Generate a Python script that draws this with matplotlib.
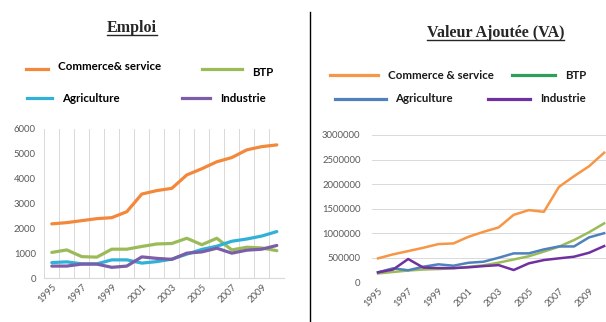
import matplotlib
matplotlib.use("Agg")
import matplotlib.pyplot as plt
from matplotlib.lines import Line2D
import numpy as np

years = list(range(1995, 2011))
tick_years = [str(y) for y in range(1995, 2010, 2)]

# Emploi
emp_commerce = [2180, 2230, 2310, 2390, 2430, 2670, 3380, 3520, 3610, 4150, 4400, 4680, 4850, 5160, 5290, 5360]
emp_btp = [1030, 1130, 860, 840, 1160, 1160, 1270, 1370, 1390, 1600, 1340, 1600, 1130, 1240, 1210, 1100]
emp_agri = [620, 650, 570, 570, 730, 730, 600, 660, 760, 960, 1150, 1280, 1480, 1570, 1690, 1870]
emp_indus = [480, 480, 560, 560, 430, 480, 850, 790, 750, 1000, 1050, 1200, 1000, 1120, 1160, 1310]

# Valeur ajoutee
va_commerce = [488000, 569000, 636000, 703000, 778000, 792000, 927000, 1028000, 1118000, 1374000, 1470000, 1435000, 1943000, 2161000, 2364000, 2640000]
va_btp = [180000, 210000, 240000, 260000, 270000, 285000, 315000, 345000, 400000, 465000, 530000, 625000, 725000, 860000, 1020000, 1200000]
va_agri = [203000, 285000, 245000, 317000, 366000, 338000, 398000, 419000, 500000, 589000, 589000, 670000, 730000, 730000, 915000, 1000000]
va_indus = [203000, 260000, 474000, 300000, 290000, 290000, 305000, 330000, 350000, 250000, 386000, 453000, 488000, 521000, 602000, 738000]

emp_names = ["Commerce& service", "BTP", "Agriculture", "Industrie"]
va_names = ["Commerce & service", "BTP", "Agriculture", "Industrie"]

W, H = 606, 322
fig = plt.figure(figsize=(W / 100, H / 100), dpi=100)
fig.patch.set_facecolor("white")

def fx(x):
    return x / W

def fy(y):
    return 1 - y / H

tick_color = "#595959"
tick_font = "Lato"

# ---------- Left chart ----------
axL = fig.add_axes([fx(44.3), fy(278), fx(240), 149 / H])
cL = ["#F4883A", "#9BBB59", "#31B0D8", "#7B5EA7"]
xs = np.arange(len(years))
for vals, col in [(emp_commerce, cL[0]), (emp_btp, cL[1]), (emp_agri, cL[2]), (emp_indus, cL[3])]:
    axL.plot(xs, vals, color=col, lw=2.3, solid_capstyle="round", solid_joinstyle="round")
axL.set_xlim(-0.5, len(years) - 0.5)
axL.set_ylim(0, 6000)
axL.set_yticks(range(0, 6001, 1000))
axL.set_xticks(np.arange(0, len(years), 2))
axL.set_xticklabels(tick_years, rotation=45, ha="right", rotation_mode="anchor")
axL.set_xticks(np.arange(-0.5, len(years), 1), minor=True)
axL.grid(which="minor", axis="x", color="#D9D9D9", lw=0.7)
axL.tick_params(which="both", length=0)
axL.tick_params(axis="y", pad=6)
axL.tick_params(axis="x", pad=3)
for s in ["left", "right", "top"]:
    axL.spines[s].set_visible(False)
axL.spines["bottom"].set_color("#D9D9D9")
for lab in axL.get_xticklabels() + axL.get_yticklabels():
    lab.set_fontsize(6.8)
    lab.set_color(tick_color)
    lab.set_family(tick_font)

# ---------- Right chart ----------
axR = fig.add_axes([fx(371.7), fy(282.3), fx(240), 147.3 / H])
cR = ["#F79646", "#9BBB59", "#4F81BD", "#7030A0"]
for vals, col in [(va_commerce, cR[0]), (va_btp, cR[1]), (va_agri, cR[2]), (va_indus, cR[3])]:
    axR.plot(xs, vals, color=col, lw=1.8, solid_joinstyle="round")
axR.set_xlim(-0.42, len(years) - 0.5)
axR.set_ylim(0, 3000000)
axR.set_yticks(range(0, 3000001, 500000))
axR.set_yticklabels([str(v) for v in range(0, 3000001, 500000)])
axR.set_xticks(np.arange(0, len(years), 2))
axR.set_xticklabels(tick_years, rotation=45, ha="right", rotation_mode="anchor")
axR.grid(axis="y", color="#D9D9D9", lw=0.7)
axR.tick_params(which="both", length=0)
axR.tick_params(axis="y", pad=8)
axR.tick_params(axis="x", pad=3)
for s in ["left", "right", "top", "bottom"]:
    axR.spines[s].set_visible(False)
for lab in axR.get_xticklabels() + axR.get_yticklabels():
    lab.set_fontsize(6.8)
    lab.set_color(tick_color)
    lab.set_family(tick_font)

# separator
fig.add_artist(Line2D([fx(310), fx(310)], [fy(12), fy(322)], color="black", lw=1.0))

# ---------- Titles ----------
tL = fig.text(fx(132), fy(28), "Emploi", ha="center", va="center", fontsize=11.5,
              fontweight="bold", family="Liberation Serif", color="#262626")
tR = fig.text(fx(495.5), fy(33), "Valeur Ajoutée (VA)", ha="center", va="center", fontsize=11.5,
              fontweight="bold", family="Liberation Serif", color="#262626")

# ---------- Legends (manual placement like the original) ----------
legL = [
    (26, 48, 69, cL[0], 58, emp_names[0]),
    (202, 242, 69, cL[1], 252, emp_names[1]),
    (27, 52, 98, cL[2], 62, emp_names[2]),
    (182, 210, 98, cL[3], 220, emp_names[3]),
]
legL_text_y = [67, 72, 98, 99]
for (x0, x1, y, col, tx, name), ty in zip(legL, legL_text_y):
    fig.add_artist(Line2D([fx(x0), fx(x1)], [fy(y), fy(y)], color=col, lw=2.3))
    fig.text(fx(tx), fy(ty), name, ha="left", va="center", fontsize=8.3,
             fontweight="bold", family="Lato", color="black")

legR_line_cols = ["#F79646", "#2E9E5B", "#4F81BD", "#7030A0"]
legR = [
    (330, 378, 75, 388, va_names[0]),
    (512, 555, 75, 565, va_names[1]),
    (335, 386, 99, 395, va_names[2]),
    (488, 530, 99, 540, va_names[3]),
]
for (x0, x1, y, tx, name), col in zip(legR, legR_line_cols):
    fig.add_artist(Line2D([fx(x0), fx(x1)], [fy(y), fy(y)], color=col, lw=2.3))
    fig.text(fx(tx), fy(y), name, ha="left", va="center", fontsize=8.3,
             fontweight="bold", family="Lato", color="#1a1a1a")

# underline titles
fig.canvas.draw()
r = fig.canvas.get_renderer()
for t in (tL, tR):
    bb = t.get_window_extent(renderer=r)
    yline = bb.y0 + 1.5
    fig.add_artist(Line2D([bb.x0 / W, bb.x1 / W], [yline / H, yline / H], color="#262626", lw=1.0))

fig.savefig("out.png", dpi=100, facecolor="white")
